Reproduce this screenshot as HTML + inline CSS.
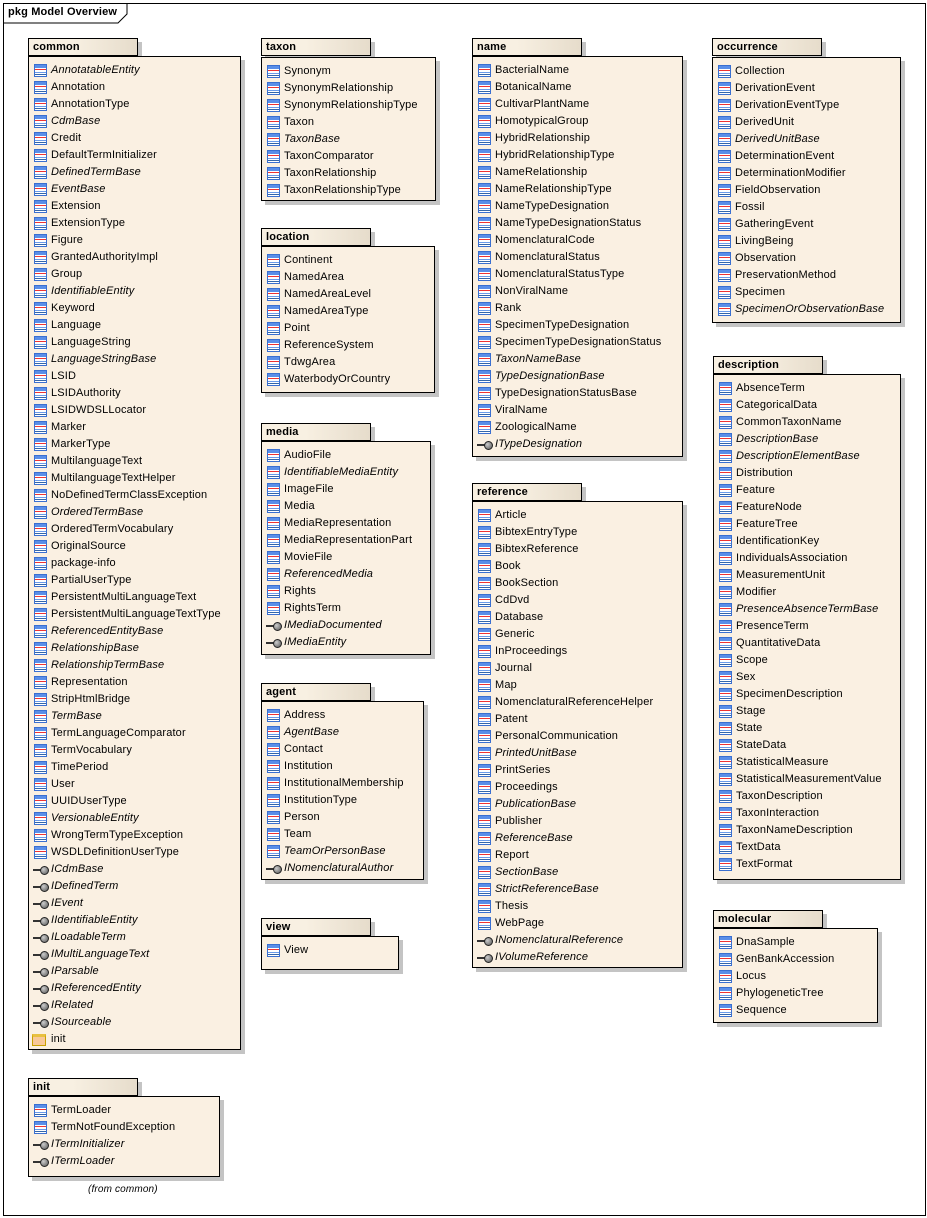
<!DOCTYPE html>
<html><head><meta charset="utf-8"><style>
body{margin:0;background:#fff;width:927px;height:1218px;position:relative;overflow:hidden;font-family:"Liberation Sans",Arial,sans-serif;font-size:11px;color:#000;letter-spacing:0.15px}
.frame{position:absolute;left:3px;top:3px;width:921px;height:1211px;border:1px solid #000}
.title{position:absolute;left:3px;top:3px;height:18px;line-height:18px;padding-left:5px;font-weight:bold;font-size:11px}
.p{position:absolute}
.tab{position:absolute;left:0;top:0;width:110px;height:18px;border:1px solid #000;background:linear-gradient(90deg,#f8f0e2 0%,#f8f0e2 40%,#e6dccb 100%);font-weight:bold;line-height:17px;padding-left:4px;box-sizing:border-box;box-shadow:4px 4px 0 #c4c4c4}
.bd{position:absolute;left:0;border:1px solid #000;background:#faf0e2;box-sizing:border-box;box-shadow:4px 4px 0 #c4c4c4;padding-top:5px}
.i{height:17px;line-height:17px;position:relative;padding-left:22px;white-space:nowrap}
.a{font-style:italic}
.i.c::before{content:"";position:absolute;left:5px;top:2px;width:11px;height:11px;border:1px solid #3a6fd0;background:linear-gradient(#5a8ee8 0,#5a8ee8 3px,#fff 3px,#fff 4px,#e33 4px,#e33 5px,#fff 5px,#fff 7px,#6a9ae8 7px,#6a9ae8 8px,#fff 8px,#fff 9px,#36a 9px,#36a 10px,#fff 10px)}
.i.n::before{content:"";position:absolute;left:4px;top:8px;width:8px;height:2px;background:#333}
.i.n::after{content:"";position:absolute;left:11px;top:5px;width:7px;height:7px;border-radius:50%;background:radial-gradient(circle at 35% 35%,#ccc,#555);border:1px solid #222}
.i.f::before{content:"";position:absolute;left:3px;top:3px;width:14px;height:12px;border:1px solid #c8a000;background:#f8c898;border-top:3px solid #e8c040;box-sizing:border-box}
</style></head><body>
<div class="frame"></div>
<svg style="position:absolute;left:0;top:0" width="927" height="1218"><polyline points="3,23 118,23 127,14 127,3" fill="none" stroke="#000" stroke-width="1"/></svg>
<div class="title">pkg Model Overview</div>

<div class="p" style="left:28px;top:38px"><div class="tab">common</div><div class="bd" style="top:18px;width:213px;height:994px">
<div class="i c a">AnnotatableEntity</div><div class="i c">Annotation</div><div class="i c">AnnotationType</div><div class="i c a">CdmBase</div><div class="i c">Credit</div><div class="i c">DefaultTermInitializer</div><div class="i c a">DefinedTermBase</div><div class="i c a">EventBase</div><div class="i c">Extension</div><div class="i c">ExtensionType</div><div class="i c">Figure</div><div class="i c">GrantedAuthorityImpl</div><div class="i c">Group</div><div class="i c a">IdentifiableEntity</div><div class="i c">Keyword</div><div class="i c">Language</div><div class="i c">LanguageString</div><div class="i c a">LanguageStringBase</div><div class="i c">LSID</div><div class="i c">LSIDAuthority</div><div class="i c">LSIDWDSLLocator</div><div class="i c">Marker</div><div class="i c">MarkerType</div><div class="i c">MultilanguageText</div><div class="i c">MultilanguageTextHelper</div><div class="i c">NoDefinedTermClassException</div><div class="i c a">OrderedTermBase</div><div class="i c">OrderedTermVocabulary</div><div class="i c">OriginalSource</div><div class="i c">package-info</div><div class="i c">PartialUserType</div><div class="i c">PersistentMultiLanguageText</div><div class="i c">PersistentMultiLanguageTextType</div><div class="i c a">ReferencedEntityBase</div><div class="i c a">RelationshipBase</div><div class="i c a">RelationshipTermBase</div><div class="i c">Representation</div><div class="i c">StripHtmlBridge</div><div class="i c a">TermBase</div><div class="i c">TermLanguageComparator</div><div class="i c">TermVocabulary</div><div class="i c">TimePeriod</div><div class="i c">User</div><div class="i c">UUIDUserType</div><div class="i c a">VersionableEntity</div><div class="i c">WrongTermTypeException</div><div class="i c">WSDLDefinitionUserType</div><div class="i n a">ICdmBase</div><div class="i n a">IDefinedTerm</div><div class="i n a">IEvent</div><div class="i n a">IIdentifiableEntity</div><div class="i n a">ILoadableTerm</div><div class="i n a">IMultiLanguageText</div><div class="i n a">IParsable</div><div class="i n a">IReferencedEntity</div><div class="i n a">IRelated</div><div class="i n a">ISourceable</div><div class="i f">init</div>
</div></div>

<div class="p" style="left:28px;top:1078px"><div class="tab">init</div><div class="bd" style="top:18px;width:192px;height:81px">
<div class="i c">TermLoader</div><div class="i c">TermNotFoundException</div><div class="i n a">ITermInitializer</div><div class="i n a">ITermLoader</div>
</div></div>
<div style="position:absolute;left:88px;top:1184px;font-style:italic;font-size:10px">(from common)</div>

<div class="p" style="left:261px;top:38px"><div class="tab">taxon</div><div class="bd" style="top:19px;width:175px;height:144px">
<div class="i c">Synonym</div><div class="i c">SynonymRelationship</div><div class="i c">SynonymRelationshipType</div><div class="i c">Taxon</div><div class="i c a">TaxonBase</div><div class="i c">TaxonComparator</div><div class="i c">TaxonRelationship</div><div class="i c">TaxonRelationshipType</div>
</div></div>

<div class="p" style="left:261px;top:228px"><div class="tab">location</div><div class="bd" style="top:18px;width:174px;height:147px">
<div class="i c">Continent</div><div class="i c">NamedArea</div><div class="i c">NamedAreaLevel</div><div class="i c">NamedAreaType</div><div class="i c">Point</div><div class="i c">ReferenceSystem</div><div class="i c">TdwgArea</div><div class="i c">WaterbodyOrCountry</div>
</div></div>

<div class="p" style="left:261px;top:423px"><div class="tab">media</div><div class="bd" style="top:18px;width:170px;height:214px">
<div class="i c">AudioFile</div><div class="i c a">IdentifiableMediaEntity</div><div class="i c">ImageFile</div><div class="i c">Media</div><div class="i c">MediaRepresentation</div><div class="i c">MediaRepresentationPart</div><div class="i c">MovieFile</div><div class="i c a">ReferencedMedia</div><div class="i c">Rights</div><div class="i c">RightsTerm</div><div class="i n a">IMediaDocumented</div><div class="i n a">IMediaEntity</div>
</div></div>

<div class="p" style="left:261px;top:683px"><div class="tab">agent</div><div class="bd" style="top:18px;width:163px;height:179px">
<div class="i c">Address</div><div class="i c a">AgentBase</div><div class="i c">Contact</div><div class="i c">Institution</div><div class="i c">InstitutionalMembership</div><div class="i c">InstitutionType</div><div class="i c">Person</div><div class="i c">Team</div><div class="i c a">TeamOrPersonBase</div><div class="i n a">INomenclaturalAuthor</div>
</div></div>

<div class="p" style="left:261px;top:918px"><div class="tab">view</div><div class="bd" style="top:18px;width:138px;height:34px">
<div class="i c">View</div>
</div></div>

<div class="p" style="left:472px;top:38px"><div class="tab">name</div><div class="bd" style="top:18px;width:211px;height:401px">
<div class="i c">BacterialName</div><div class="i c">BotanicalName</div><div class="i c">CultivarPlantName</div><div class="i c">HomotypicalGroup</div><div class="i c">HybridRelationship</div><div class="i c">HybridRelationshipType</div><div class="i c">NameRelationship</div><div class="i c">NameRelationshipType</div><div class="i c">NameTypeDesignation</div><div class="i c">NameTypeDesignationStatus</div><div class="i c">NomenclaturalCode</div><div class="i c">NomenclaturalStatus</div><div class="i c">NomenclaturalStatusType</div><div class="i c">NonViralName</div><div class="i c">Rank</div><div class="i c">SpecimenTypeDesignation</div><div class="i c">SpecimenTypeDesignationStatus</div><div class="i c a">TaxonNameBase</div><div class="i c a">TypeDesignationBase</div><div class="i c">TypeDesignationStatusBase</div><div class="i c">ViralName</div><div class="i c">ZoologicalName</div><div class="i n a">ITypeDesignation</div>
</div></div>

<div class="p" style="left:472px;top:483px"><div class="tab">reference</div><div class="bd" style="top:18px;width:211px;height:467px">
<div class="i c">Article</div><div class="i c">BibtexEntryType</div><div class="i c">BibtexReference</div><div class="i c">Book</div><div class="i c">BookSection</div><div class="i c">CdDvd</div><div class="i c">Database</div><div class="i c">Generic</div><div class="i c">InProceedings</div><div class="i c">Journal</div><div class="i c">Map</div><div class="i c">NomenclaturalReferenceHelper</div><div class="i c">Patent</div><div class="i c">PersonalCommunication</div><div class="i c a">PrintedUnitBase</div><div class="i c">PrintSeries</div><div class="i c">Proceedings</div><div class="i c a">PublicationBase</div><div class="i c">Publisher</div><div class="i c a">ReferenceBase</div><div class="i c">Report</div><div class="i c a">SectionBase</div><div class="i c a">StrictReferenceBase</div><div class="i c">Thesis</div><div class="i c">WebPage</div><div class="i n a">INomenclaturalReference</div><div class="i n a">IVolumeReference</div>
</div></div>

<div class="p" style="left:712px;top:38px"><div class="tab">occurrence</div><div class="bd" style="top:19px;width:189px;height:266px">
<div class="i c">Collection</div><div class="i c">DerivationEvent</div><div class="i c">DerivationEventType</div><div class="i c">DerivedUnit</div><div class="i c a">DerivedUnitBase</div><div class="i c">DeterminationEvent</div><div class="i c">DeterminationModifier</div><div class="i c">FieldObservation</div><div class="i c">Fossil</div><div class="i c">GatheringEvent</div><div class="i c">LivingBeing</div><div class="i c">Observation</div><div class="i c">PreservationMethod</div><div class="i c">Specimen</div><div class="i c a">SpecimenOrObservationBase</div>
</div></div>

<div class="p" style="left:713px;top:356px"><div class="tab">description</div><div class="bd" style="top:18px;width:188px;height:506px">
<div class="i c">AbsenceTerm</div><div class="i c">CategoricalData</div><div class="i c">CommonTaxonName</div><div class="i c a">DescriptionBase</div><div class="i c a">DescriptionElementBase</div><div class="i c">Distribution</div><div class="i c">Feature</div><div class="i c">FeatureNode</div><div class="i c">FeatureTree</div><div class="i c">IdentificationKey</div><div class="i c">IndividualsAssociation</div><div class="i c">MeasurementUnit</div><div class="i c">Modifier</div><div class="i c a">PresenceAbsenceTermBase</div><div class="i c">PresenceTerm</div><div class="i c">QuantitativeData</div><div class="i c">Scope</div><div class="i c">Sex</div><div class="i c">SpecimenDescription</div><div class="i c">Stage</div><div class="i c">State</div><div class="i c">StateData</div><div class="i c">StatisticalMeasure</div><div class="i c">StatisticalMeasurementValue</div><div class="i c">TaxonDescription</div><div class="i c">TaxonInteraction</div><div class="i c">TaxonNameDescription</div><div class="i c">TextData</div><div class="i c">TextFormat</div>
</div></div>

<div class="p" style="left:713px;top:910px"><div class="tab">molecular</div><div class="bd" style="top:18px;width:165px;height:95px">
<div class="i c">DnaSample</div><div class="i c">GenBankAccession</div><div class="i c">Locus</div><div class="i c">PhylogeneticTree</div><div class="i c">Sequence</div>
</div></div>
</body></html>
